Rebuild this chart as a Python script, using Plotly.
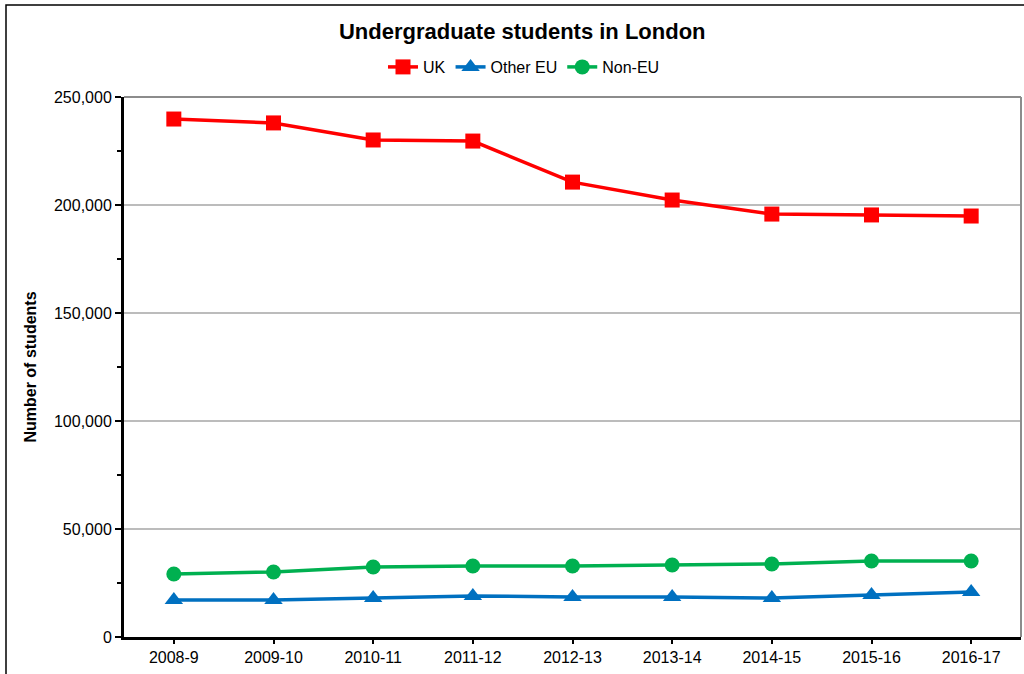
import plotly.graph_objects as go

years = ["2008-9", "2009-10", "2010-11", "2011-12", "2012-13", "2013-14", "2014-15", "2015-16", "2016-17"]
uk = [239800, 238000, 230100, 229600, 210600, 202300, 195800, 195400, 194900]
other_eu = [17100, 17100, 18000, 19000, 18500, 18500, 18000, 19400, 20800]
non_eu = [29200, 30100, 32400, 32900, 32900, 33300, 33800, 35200, 35200]

FONT = "Liberation Sans, Arial, sans-serif"

fig = go.Figure()
fig.add_trace(go.Scatter(x=years, y=uk, name="UK", mode="lines+markers",
                         line=dict(color="#FF0000", width=3.5),
                         marker=dict(symbol="square", size=15, color="#FF0000")))
fig.add_trace(go.Scatter(x=years, y=other_eu, name="Other EU", mode="lines+markers",
                         line=dict(color="#0070C0", width=3.5),
                         marker=dict(symbol="triangle-up", size=16, color="#0070C0")))
fig.add_trace(go.Scatter(x=years, y=non_eu, name="Non-EU", mode="lines+markers",
                         line=dict(color="#00B050", width=3.5),
                         marker=dict(symbol="circle", size=15, color="#00B050")))

L, R, T, B = 124, 3, 97, 37
W, H = 1024, 674
pw, ph = W - L - R, H - T - B

def px_x(p):
    return (p - L) / pw

def px_y(p):
    return (H - B - p) / ph

fig.update_layout(
    width=W, height=H,
    margin=dict(l=L, r=R, t=T, b=B, autoexpand=False),
    paper_bgcolor="white", plot_bgcolor="white",
    font=dict(family=FONT, color="black", size=16),
    title=dict(text="<b>Undergraduate students in London</b>", x=0.51, xanchor="center",
               y=1 - 31 / H, yanchor="middle", font=dict(size=22, family=FONT)),
    legend=dict(orientation="h", x=px_x(524), xanchor="center", y=px_y(67), yanchor="middle",
                font=dict(size=16, family=FONT), itemwidth=30, tracegroupgap=0,
                bgcolor="rgba(0,0,0,0)"),
    showlegend=True,
    xaxis=dict(type="category", range=[-0.5, 8.5], showgrid=False, showline=True,
               linecolor="black", linewidth=3, ticks="outside", ticklen=4,
               tickcolor="black", tickwidth=2, tickfont=dict(size=16), zeroline=False,
               automargin=False),
    yaxis=dict(range=[0, 250000], dtick=50000, tickformat=",", showgrid=True,
               gridcolor="#bcbcbc", gridwidth=2, showline=True, linecolor="black",
               linewidth=3, ticks="outside", ticklen=6, tickcolor="black", tickwidth=2,
               minor=dict(dtick=25000, ticks="outside", ticklen=4, tickcolor="black",
                          tickwidth=2, showgrid=False),
               tickfont=dict(size=16), zeroline=False, automargin=False,
               title=dict(text="<b>Number of students</b>", font=dict(size=16), standoff=14)),
)

# plot area top and right borders (gray)
fig.add_shape(type="line", xref="paper", yref="paper", x0=0, x1=1, y0=1, y1=1,
              line=dict(color="#8c8c8c", width=2))
fig.add_shape(type="line", xref="paper", yref="paper", x0=1, x1=1, y0=0, y1=1,
              line=dict(color="#8c8c8c", width=2))
# outer chart frame
fig.add_shape(type="rect", xref="paper", yref="paper",
              x0=px_x(6), x1=px_x(1030), y0=px_y(680), y1=px_y(5),
              line=dict(color="black", width=1.5), layer="below")

fig.write_html("out.html", config={"displayModeBar": False},
               post_script="document.body.style.margin='0px';document.body.style.overflow='hidden';")
